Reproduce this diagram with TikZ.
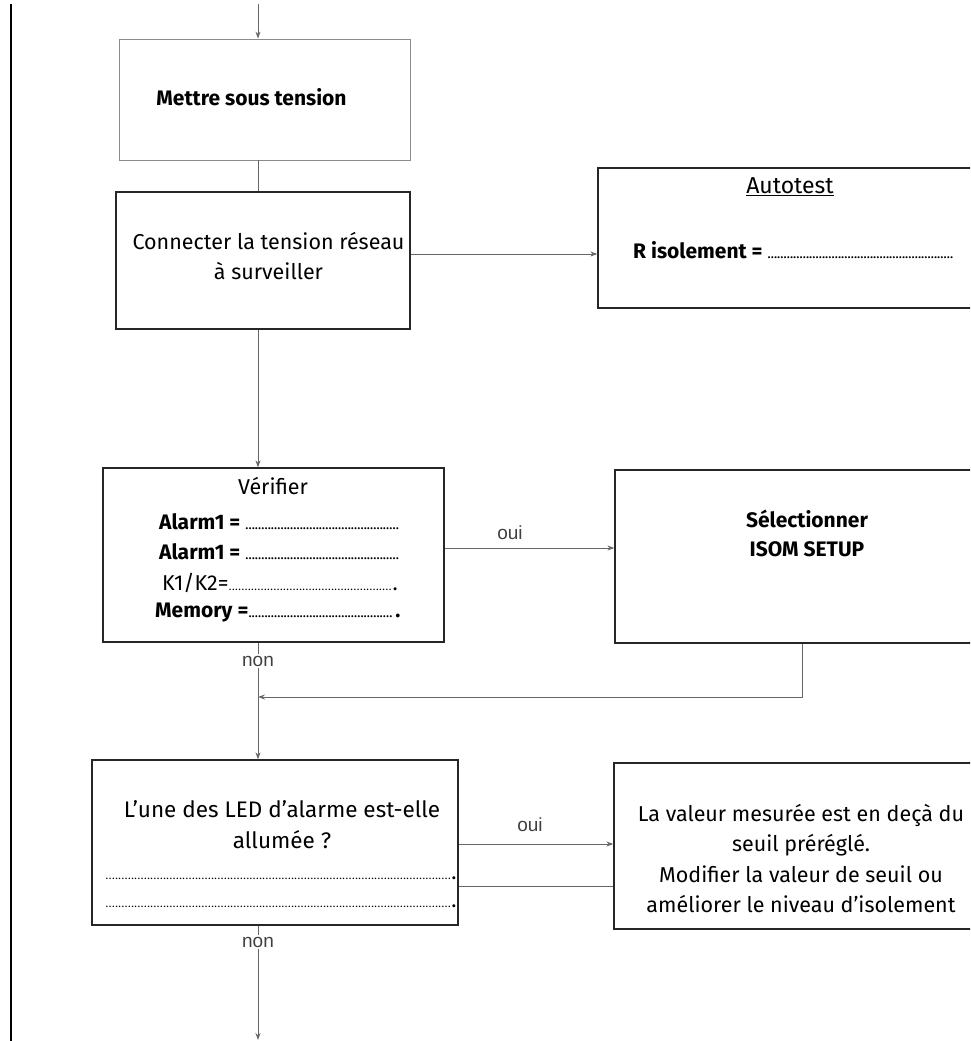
\documentclass[tikz,border=0pt]{standalone}
\usepackage{fontspec}
\setmainfont{Fira Sans}
\newfontfamily\labelfont{Liberation Sans}
\usetikzlibrary{arrows.meta}

% ligne de pointillés à compléter
\newcommand{\pointilles}[1]{\makebox[#1]{\leaders\hbox to 3.2pt{\hss\fontsize{11}{11}\selectfont.\hss}\hfill}}

\begin{document}
\begin{tikzpicture}[x=1pt, y=-1pt,
    boite/.style={draw=black!85, line width=1.3pt, inner sep=0pt},
    texte/.style={font=\fontsize{21.5}{30}\selectfont, align=center, inner sep=1pt},
    texteg/.style={font=\bfseries\fontsize{21}{29}\selectfont, align=center, inner sep=1pt},
    etiq/.style={font=\labelfont\fontsize{19}{22}\selectfont, text=black!75, inner sep=2pt},
    trait/.style={draw=black!60, line width=0.9pt},
    fleche/.style={trait, -{Stealth[length=7pt, width=5pt]}}]
    \useasboundingbox (0,0) rectangle (970,1041);
    \clip (0,0) rectangle (970,1041);

    % Trait de marge
    \draw[line width=1.2pt] (11,4) -- (11,1041);

    % Boites
    \node[boite, draw=black!45, line width=0.8pt, minimum width=291pt, minimum height=121pt] (tension) at (264.5,99.5) {};
    \node[boite, minimum width=294pt, minimum height=137pt] (connect) at (263,260.5) {};
    \node[boite, minimum width=382pt, minimum height=140pt] (autotest) at (789,238) {};
    \node[boite, minimum width=341pt, minimum height=174pt] (verif) at (273.5,555) {};
    \node[boite, minimum width=370pt, minimum height=173pt] (isom) at (800,556.5) {};
    \node[boite, minimum width=366pt, minimum height=165pt] (led) at (275,842.5) {};
    \node[boite, minimum width=371pt, minimum height=166pt] (seuil) at (799.5,846) {};

    % Textes
    \node[texteg] (tensiontxt) at (251.5,97) {Mettre sous tension};
    \node[texte] (connecttxt) at (268.5,256.5) {Connecter la tension réseau\\à surveiller};
    \node[texte, font=\fontsize{23}{28}\selectfont] (autotitre) at (790,187) {\underline{Autotest}};
    \node[texteg, anchor=west] (risol) at (632,250) {R isolement = \pointilles{188pt}};
    \node[texte] (veriftitre) at (273,486) {Vérifier};
    \node[texteg, anchor=west] (alarm1) at (158,522) {Alarm1 = \pointilles{154pt}};
    \node[texteg, anchor=west] (alarm2) at (158,552) {Alarm1 = \pointilles{154pt}};
    \node[texte, anchor=west] (k1k2) at (161,583) {K1/K2=\pointilles{164pt}.};
    \node[texteg, anchor=west] (memory) at (154,613) {Memory =\pointilles{147pt}.};
    \node[texteg] (isomtxt) at (807,533.5) {Sélectionner\\ISOM SETUP};
    \node[texte, font=\fontsize{22.5}{31}\selectfont] (ledtxt) at (282,825) {L'une des LED d'alarme est-elle\\allumée ?};
    \node[texte] (ledpts1) at (281,878) {\pointilles{346pt}.};
    \node[texte] (ledpts2) at (281,906) {\pointilles{346pt}.};
    \node[texte, font=\fontsize{21.5}{30.3}\selectfont] (seuiltxt) at (801,858.5) {La valeur mesurée est en deçà du\\seuil préréglé.\\Modifier la valeur de seuil ou\\améliorer le niveau d'isolement};

    % Etiquettes
    \node[etiq] (ouiverif) at (510,533) {oui};
    \node[etiq] (nonverif) at (258,661) {non};
    \node[etiq] (ouiled) at (530,825) {oui};
    \node[etiq] (nonled) at (258,942) {non};

    % Liaisons
    \coordinate (entree) at (258,4);
    \coordinate (retour) at (802,697);
    \coordinate (sortie) at (258,1040);
    \draw[fleche] (entree) -- (entree |- tension.north);
    \draw[trait] (tension.south -| entree) -- (connect.north -| entree);
    \draw[fleche] ([yshift=6.5pt]connect.east) coordinate (c1) -- (c1 -| autotest.west);
    \draw[fleche] (connect.south -| entree) -- (verif.north -| entree);
    \draw[fleche] ([yshift=7pt]verif.east) coordinate (v1) -- (v1 -| isom.west);
    \draw[trait] (verif.south -| entree) -- (nonverif.north);
    \draw[fleche] (nonverif.south) -- (led.north -| entree);
    \draw[fleche] (isom.south -| retour) -- (retour) -- (retour -| entree);
    \draw[fleche] ([yshift=-1.5pt]led.east) coordinate (l1) -- (l1 -| seuil.west);
    \draw[trait] ([yshift=-43.5pt]led.east) coordinate (l2) -- (l2 -| seuil.west);
    \draw[trait] (led.south -| entree) -- (nonled.north);
    \draw[fleche] (nonled.south) -- (sortie);
\end{tikzpicture}
\end{document}
